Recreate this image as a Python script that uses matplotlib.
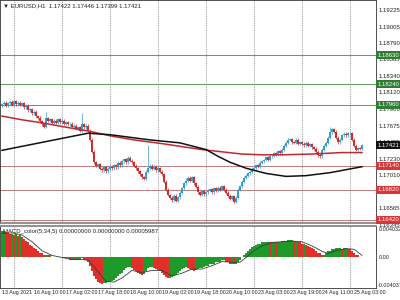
import matplotlib
matplotlib.use('Agg')
import matplotlib.pyplot as plt

plt.rcParams['font.family'] = ['Liberation Sans', 'DejaVu Sans']

symbol_title = '\u25bc EURUSD,H1  1.17422 1.17446 1.17399 1.17421'
macd_title = 'MACD_color(5,34,5) 0.00000000 0.00000000 0.00005987'

# hourly closes, first bar = 13 Aug 18:00
first_open = 1.1795
closes = [
    1.1797, 1.1799, 1.1795, 1.1798, 1.1800, 1.1796, 1.1801, 1.1797, 1.1799, 1.1796,
    1.1798, 1.1793, 1.1795, 1.1789, 1.1790, 1.1785, 1.1787, 1.1781, 1.1779, 1.1774,
    1.1770, 1.1767, 1.1778, 1.1775, 1.1777, 1.1772, 1.1775, 1.1772, 1.1777, 1.1773,
    1.1775, 1.1771, 1.1773, 1.1770, 1.1771, 1.1767, 1.1768, 1.1764, 1.1766, 1.1761,
    1.1770, 1.1766, 1.1768, 1.1761, 1.1749, 1.1733, 1.1719, 1.1714, 1.1716, 1.1710,
    1.1708, 1.1712, 1.1707, 1.1710, 1.1713, 1.1711, 1.1715, 1.1712, 1.1718, 1.1715,
    1.1720, 1.1723, 1.1719, 1.1725, 1.1721, 1.1719, 1.1714, 1.1711, 1.1707, 1.1703,
    1.1699, 1.1697, 1.1706, 1.1711, 1.1714, 1.1710, 1.1713, 1.1708, 1.1711, 1.1706,
    1.1703, 1.1693, 1.1682, 1.1675, 1.1671, 1.1668, 1.1674, 1.1667, 1.1672, 1.1678,
    1.1684, 1.1691, 1.1694, 1.1698, 1.1694, 1.1699, 1.1691, 1.1686, 1.1679, 1.1675,
    1.1680, 1.1676, 1.1679, 1.1681, 1.1683, 1.1679, 1.1684, 1.1681, 1.1685, 1.1682,
    1.1687, 1.1682, 1.1678, 1.1674, 1.1670, 1.1673, 1.1666, 1.1671, 1.1682, 1.1687,
    1.1693, 1.1698, 1.1701, 1.1704, 1.1706, 1.1710, 1.1711, 1.1715, 1.1713, 1.1718,
    1.1720, 1.1722, 1.1726, 1.1722, 1.1727, 1.1728, 1.1731, 1.1729, 1.1734, 1.1731,
    1.1736, 1.1741, 1.1745, 1.1749, 1.1750, 1.1746, 1.1745, 1.1749, 1.1744, 1.1746,
    1.1744, 1.1742, 1.1745, 1.1741, 1.1743, 1.1739, 1.1737, 1.1733, 1.1729, 1.1727,
    1.1736, 1.1741, 1.1745, 1.1752, 1.1759, 1.1763, 1.1760, 1.1752, 1.1746, 1.1749,
    1.1755, 1.1757, 1.1755, 1.1758, 1.1758, 1.1749, 1.1741, 1.1736, 1.1738, 1.1737,
    1.17421,
]
# long wicks
spike_high = {22: 1.1787, 40: 1.1785, 73: 1.1742, 164: 1.1766, 92: 1.1698}
spike_low = {87: 1.1665, 116: 1.1664, 158: 1.1726}

ma_red_idx = [0, 10, 20, 30, 43, 55, 66, 80, 90, 100, 110, 120, 130, 140, 155, 170, 180]
ma_red = [1.1781, 1.1776, 1.1772, 1.1767, 1.1761, 1.1754, 1.1749, 1.1744, 1.1740,
          1.1736, 1.1733, 1.1730, 1.1729, 1.1729, 1.1730, 1.1732, 1.1732]
ma_black_idx = [0, 43, 54, 74, 89, 102, 108, 114, 122, 132, 142, 152, 164, 180]
ma_black = [1.1735, 1.1758, 1.1756, 1.1749, 1.1745, 1.1736, 1.1727, 1.1719, 1.1711,
            1.1704, 1.1700, 1.1701, 1.1705, 1.1713]

levels_green = [1.18630, 1.18240, 1.17960]
levels_red = [1.17140, 1.16820, 1.16420]
last_price = 1.17421

price_ticks = [1.19225, 1.19005, 1.18790, 1.18565, 1.18340, 1.18120, 1.17900,
               1.17675, 1.17455, 1.17230, 1.17010, 1.16790, 1.16565, 1.16345]

time_labels = ['13 Aug 2021', '16 Aug 10:00', '17 Aug 02:00', '17 Aug 18:00',
               '18 Aug 10:00', '19 Aug 02:00', '19 Aug 18:00', '20 Aug 10:00',
               '23 Aug 03:00', '23 Aug 19:00', '24 Aug 11:00', '25 Aug 03:00']

macd_hist = [
    0.0039, 0.0039, 0.0037,
    0.0036, 0.0035, 0.0035, 0.0033, 0.0035, 0.0032, 0.0033, 0.0030,
    0.0027, 0.0024, 0.0022, 0.0019, 0.0017,
    0.0014, 0.0012, 0.0010, 0.0007, 0.0006,
    0.0004, 0.0004, 0.0003, 0.0003, 0.0001,
    0.0001, 0.00005, 0.00004, 0.00003, 0.00002, -0.0001, -0.0001,
    -0.0001, -0.0003, -0.0003, -0.0004, -0.0004, -0.0003, -0.0003, -0.0001,
    -0.0003, -0.0004, -0.0007,
    -0.0013, -0.0020, -0.0027, -0.0032, -0.0036, -0.0037,
    -0.0039, -0.0038, -0.0037, -0.0036, -0.0036, -0.0035, -0.0033,
    -0.0030, -0.0027, -0.0024, -0.0022, -0.0019, -0.0016, -0.0014,
    -0.0014, -0.0016, -0.0019, -0.0020, -0.0022, -0.0024,
    -0.0026, -0.0024, -0.0020, -0.0016, -0.0014,
    -0.0014, -0.0016, -0.0017, -0.0019, -0.0020,
    -0.0023, -0.0026, -0.0029, -0.0030, -0.0030, -0.0029, -0.0027,
    -0.0026, -0.0023, -0.0020, -0.0017, -0.0016, -0.0014, -0.0016,
    -0.0017, -0.0019, -0.0020, -0.0019, -0.0017, -0.0016,
    -0.0016, -0.0014, -0.0013, -0.0012, -0.0010, -0.0009, -0.0009,
    -0.0007, -0.0007, -0.0006, -0.0004, -0.0004, -0.0006,
    -0.0007, -0.0009, -0.0009, -0.0010, -0.0009, -0.0006,
    -0.0003, 0.0001, 0.0004, 0.0007, 0.0010, 0.0013,
    0.0016, 0.0017, 0.0019, 0.0020, 0.0020, 0.0022,
    0.0022, 0.0022, 0.0023, 0.0022, 0.0023, 0.0023, 0.0022, 0.0023, 0.0023, 0.0024, 0.0024, 0.0024,
    0.0026, 0.0026, 0.0026, 0.0024, 0.0024, 0.0023, 0.0022,
    0.0020, 0.0020, 0.0019, 0.0017, 0.0016, 0.0014, 0.0013,
    0.0010, 0.0007, 0.0006, 0.0004, 0.0004,
    0.0007, 0.0009, 0.0010, 0.0012, 0.0013, 0.0014,
    0.0014, 0.0014, 0.0013, 0.0014, 0.0014, 0.0013, 0.0012,
    0.0009, 0.0006, 0.0004, 0.0003, 0.0001, 0.0001,
]
signal_idx = [0, 5, 10, 15, 20, 25, 30, 35, 40, 43, 47, 52, 56, 60, 65, 70, 75, 80, 85,
              90, 95, 100, 105, 110, 115, 119, 122, 126, 130, 135, 140, 145, 150, 155,
              160, 163, 167, 172, 176, 180]
signal = [0.0035, 0.0036, 0.0033, 0.0023, 0.0010, 0.0003, 0.0000, -0.0003, -0.0003,
          -0.0004, -0.0017, -0.0035, -0.0036, -0.0030, -0.0019, -0.0022, -0.0019,
          -0.0019, -0.0027, -0.0023, -0.0017, -0.0017, -0.0012, -0.0006, -0.0007,
          -0.0007, 0.0000, 0.0010, 0.0017, 0.0022, 0.0023, 0.0024, 0.0023, 0.0017,
          0.0009, 0.0006, 0.0010, 0.0013, 0.0012, 0.0003]
macd_ticks = [0.0040327, 0.0, -0.004037]
macd_tick_labels = ['0.0040327', '0.00', '-0.004037']

FS = 4.3
bull, bear = '#3a9cc8', '#cc2e2e'

fig = plt.figure(figsize=(4, 3), dpi=100)
ax = fig.add_axes([0, 1 - 223 / 300, 376 / 400, 223 / 300])
axm = fig.add_axes([0, 1 - 288 / 300, 376 / 400, 62 / 300])

# candles
opens = [first_open] + closes[:-1]
for i, (o, c) in enumerate(zip(opens, closes)):
    col = bull if c >= o else bear
    hi = spike_high.get(i, max(o, c) + 0.0002)
    lo = spike_low.get(i, min(o, c) - 0.0002)
    ax.vlines(i, lo, hi, color=col, lw=0.5, zorder=3)
    ax.bar(i, max(abs(c - o), 0.00005), bottom=min(o, c), width=0.75,
           color=col, lw=0, zorder=3)

ax.plot(ma_red_idx, ma_red, color='#c0282d', lw=1.1, zorder=4)
ax.plot(ma_black_idx, ma_black, color='#111111', lw=1.1, zorder=4)

for lv in levels_green:
    ax.axhline(lv, color='#5b9a5b', lw=0.7, zorder=2)
for lv in levels_red:
    ax.axhline(lv, color='#c07a7a', lw=0.7, zorder=2)

ax.set_xlim(-1, 187)
ax.set_ylim(1.16374, 1.19369)
axm.set_xlim(-1, 187)
axm.set_ylim(-0.00447, 0.00461)

# day separators
for a in (ax, axm):
    for d in range(6, 181, 24):
        a.axvline(d, color='#555555', lw=0.5, ls=(0, (1, 1.5)), zorder=1)
    a.set_xticks([])
    a.set_yticks([])
    for s in a.spines.values():
        s.set_color('#333333')
        s.set_linewidth(0.6)
ax.spines['bottom'].set_color('#888888')
ax.spines['bottom'].set_linewidth(1.3)
axm.spines['top'].set_color('#888888')
axm.spines['top'].set_linewidth(1.3)

# price scale
ytr = ax.get_yaxis_transform()
for p in price_ticks:
    ax.text(1.008, p, f'{p:.5f}', transform=ytr, fontsize=FS, va='center',
            ha='left', color='#222222', clip_on=False, zorder=5)


def price_box(p, face):
    ax.text(1.003, p, f'{p:.5f}', transform=ytr, fontsize=FS, va='center',
            ha='left', color='white', clip_on=False, zorder=6,
            bbox=dict(boxstyle='square,pad=0.25', fc=face, ec='none'))


for lv in levels_green:
    price_box(lv, '#2f7d32')
for lv in levels_red:
    price_box(lv, '#d9363a')
price_box(last_price, '#111111')

ax.text(0.008, 0.985, symbol_title, transform=ax.transAxes, fontsize=FS,
        va='top', ha='left', color='#222222')

# MACD histogram
prev = macd_hist[0] - 0.0001
for i, v in enumerate(macd_hist):
    col = '#1f9a2a' if v >= prev else '#e0302a'
    axm.bar(i, v, width=0.8, color=col, lw=0, zorder=3)
    prev = v
axm.plot(signal_idx, signal, color='#3a3a3a', lw=0.6, zorder=4)
axm.text(0.008, 0.95, macd_title, transform=axm.transAxes, fontsize=FS,
         va='top', ha='left', color='#222222', zorder=5)

mtr = axm.get_yaxis_transform()
for v, lab in zip(macd_ticks, macd_tick_labels):
    axm.text(1.006, v, lab, transform=mtr, fontsize=3.9, va='center',
             ha='left', color='#222222', clip_on=False)

# time scale
xtr = axm.get_xaxis_transform()
for k, lab in enumerate(time_labels):
    axm.text(16 * k, -0.04, lab, transform=xtr, fontsize=3.8, va='top',
             ha='left', color='#222222', clip_on=False)

fig.savefig('out.png', dpi=100, facecolor='white')
